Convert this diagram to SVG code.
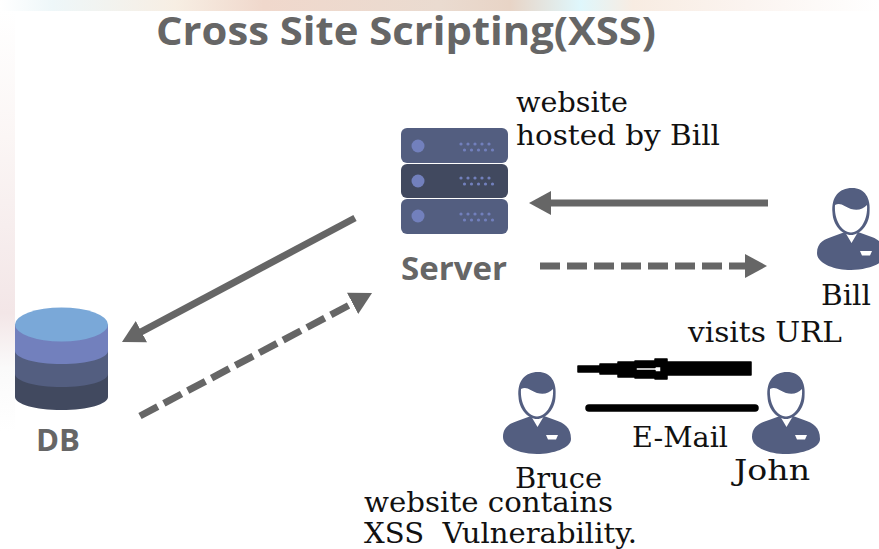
<svg xmlns="http://www.w3.org/2000/svg" width="879" height="549" viewBox="0 0 879 549">
<style>
.t{font-family:"Open Sans","DejaVu Sans",sans-serif;font-weight:700;fill:#666}
.s{font-family:"DejaVu Serif","Liberation Serif",serif;font-size:27px;fill:#111}
.a{fill:none;stroke:#666;stroke-width:7}
.dash{stroke-dasharray:20 7}
.k{fill:#000;stroke:#000;stroke-linejoin:round;stroke-linecap:round}
.d{fill:#7280bd}
</style>
<defs>
<linearGradient id="top" x1="0" x2="1" y1="0" y2="0">
<stop offset="0" stop-color="#fff"/><stop offset=".06" stop-color="#eef7f9"/><stop offset=".2" stop-color="#f7eee3"/><stop offset=".3" stop-color="#f0d8cc"/><stop offset=".5" stop-color="#eadbd0"/><stop offset=".58" stop-color="#e8d4c6"/><stop offset=".66" stop-color="#dff7fc"/><stop offset=".72" stop-color="#f8ece2"/><stop offset=".85" stop-color="#fbf4f0"/><stop offset="1" stop-color="#fff"/>
</linearGradient>
<linearGradient id="left" x1="0" x2="0" y1="0" y2="1">
<stop offset="0" stop-color="#fff"/><stop offset=".3" stop-color="#fbf6f5"/><stop offset=".72" stop-color="#f3e6e7"/><stop offset=".85" stop-color="#fafafa"/><stop offset="1" stop-color="#fff"/>
</linearGradient>
<marker id="h" markerUnits="userSpaceOnUse" markerWidth="24" markerHeight="26" refX="12" refY="13" orient="auto"><path d="M0 1L22 13L0 25Z" fill="#666"/></marker>
<g id="dots" class="d"><circle cx="0" cy="0" r="1.600"/><circle cx="7" cy="0" r="1.600"/><circle cx="14" cy="0" r="1.600"/><circle cx="21" cy="0" r="1.600"/><circle cx="28" cy="0" r="1.600"/><circle cx="3.500" cy="6" r="1.600"/><circle cx="10.500" cy="6" r="1.600"/><circle cx="17.500" cy="6" r="1.600"/><circle cx="24.500" cy="6" r="1.600"/><circle cx="31.500" cy="6" r="1.600"/></g>
<g id="person">
<path d="M0 64C0 53 8 50 17 47L28 43L34.500 54L41 43L52 47C61 50 68 54 68 66C68 75 50 81 34 81C18 81 0 75 0 64Z" fill="#535e80"/>
<path d="M15.500 24C14 8 22 -1 35 -1C48 -1 54 9 52.500 24C52 36 43 46 34 46C25 46 16 36 15.500 24Z" fill="#535e80"/>
<path d="M18 16C24 13 28 18 34 20C41 22 46 20 50 16C51 30 44 43 34 43.500C24 43 17 30 18 16Z" fill="#fff"/>
<path d="M43 62H55L53 66.500H45Z" fill="#fff"/>
</g>
</defs>
<rect width="879" height="549" fill="#fff"/>
<rect width="879" height="11" fill="url(#top)"/>
<rect x="0" y="11" width="15" height="420" fill="url(#left)"/>
<text class="t" x="156" y="45" font-size="40" textLength="500" lengthAdjust="spacingAndGlyphs">Cross Site Scripting(XSS)</text>
<g id="connectors">
<path class="a" d="M768 203H539" marker-end="url(#h)"/>
<path class="a dash" d="M540 266H757" marker-end="url(#h)"/>
<path class="a" d="M355 218L130.800 337.300" marker-end="url(#h)"/>
<path class="a dash" d="M140 416L363.200 297.700" marker-end="url(#h)"/>
<path class="k" stroke-width="1.500" fill-rule="evenodd" d="M578 366H600V364H618V362H635V361H655V359H667V362H751V375H667V379H655V378H635V377H618V374H600V372H578ZM636 367.500V370.500H655V372H661V366.500H655V367.500Z"/>
<path d="M589 408H755" fill="none" stroke="#000" stroke-width="7.500" stroke-linecap="round"/>
</g>
<g id="server">
<rect x="401" y="128" width="107" height="35" rx="6" fill="#535e80"/>
<circle cx="418" cy="146" r="6.500" class="d"/><use href="#dots" x="461" y="144"/>
<rect x="401" y="164" width="107" height="34" rx="6" fill="#41495f"/>
<circle cx="418" cy="181" r="6.500" class="d"/><use href="#dots" x="461" y="178"/>
<rect x="401" y="199" width="107" height="35" rx="6" fill="#535e80"/>
<circle cx="418" cy="216" r="6.500" class="d"/><use href="#dots" x="461" y="214"/>
<text class="t" x="401" y="280" font-size="33" textLength="106" lengthAdjust="spacingAndGlyphs">Server</text>
</g>
<g id="db">
<path d="M15 397V325H108V397C108 404 88 410 61.500 410C35 410 15 404 15 397Z" fill="#41495f"/>
<path d="M15 374V325H108V374C108 381 88 387 61.500 387C35 387 15 381 15 374Z" fill="#535e80"/>
<path d="M15 351V325H108V351C108 358 88 364 61.500 364C35 364 15 358 15 351Z" fill="#7280bd"/>
<ellipse cx="61.500" cy="324.500" rx="46.500" ry="17" fill="#7aa8d8"/>
<text class="t" x="36" y="451" font-size="31" textLength="44" lengthAdjust="spacingAndGlyphs">DB</text>
</g>
<g id="bill"><use href="#person" x="817" y="189"/><text class="s" x="821" y="305" textLength="50" lengthAdjust="spacingAndGlyphs">Bill</text></g>
<g id="bruce"><use href="#person" x="503" y="373"/><text class="s" x="515" y="488" textLength="87" lengthAdjust="spacingAndGlyphs">Bruce</text></g>
<g id="john"><use href="#person" x="752" y="373"/><text class="s" x="734" y="480" textLength="76" lengthAdjust="spacingAndGlyphs">John</text></g>
<text class="s" x="516" y="112" textLength="112" lengthAdjust="spacingAndGlyphs">website</text>
<text class="s" x="516" y="145" textLength="204" lengthAdjust="spacingAndGlyphs">hosted by Bill</text>
<text class="s" x="688" y="342" textLength="154" lengthAdjust="spacingAndGlyphs">visits URL</text>
<text class="s" x="632" y="447" textLength="96" lengthAdjust="spacingAndGlyphs">E-Mail</text>
<text class="s" x="364" y="512" textLength="249" lengthAdjust="spacingAndGlyphs">website contains</text>
<text class="s" x="364" y="543" textLength="273" lengthAdjust="spacingAndGlyphs" xml:space="preserve">XSS  Vulnerability.</text>
</svg>
